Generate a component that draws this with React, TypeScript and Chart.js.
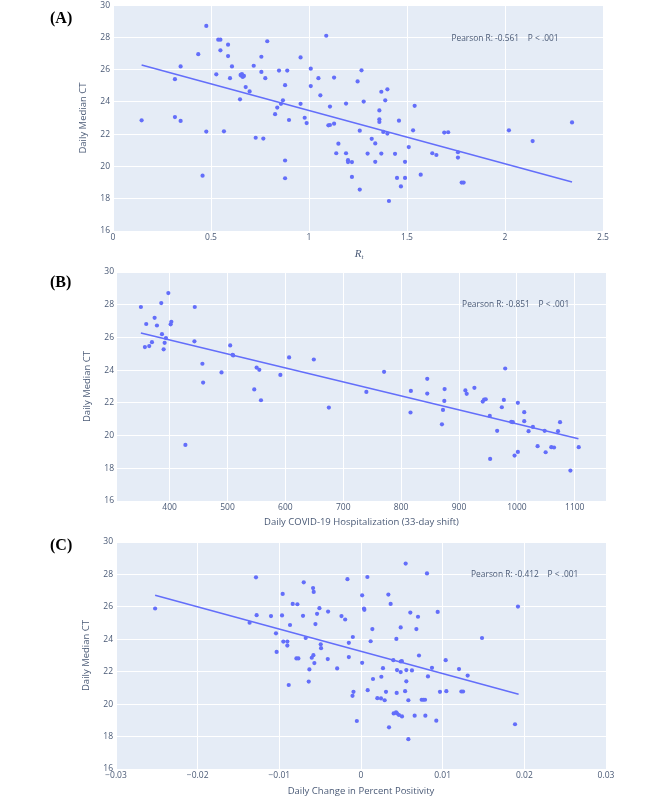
import React, { useEffect, useRef } from 'react';
import { Chart, registerables } from 'chart.js';
Chart.register(...registerables);

// ---------- Panel A: Rt vs Daily Median CT ----------
const aRt = [0.146, 0.476, 0.435, 0.345, 0.316, 0.316, 0.345, 0.476, 0.457, 0.537, 0.548, 0.548, 0.587, 0.587, 0.527, 0.607, 0.597, 0.566, 0.648, 0.651, 0.658, 0.662, 0.668, 0.655, 0.677, 0.697, 0.718, 0.757, 0.757, 0.777, 0.787, 0.728, 0.767, 0.847, 0.889, 0.878, 0.867, 0.857, 0.838, 0.827, 0.898, 0.878, 0.878, 0.957, 0.957, 0.978, 0.988, 1.009, 1.009, 1.048, 1.058, 1.088, 1.107, 1.099, 1.107, 1.128, 1.128, 1.150, 1.139, 1.189, 1.189, 1.199, 1.199, 1.219, 1.219, 1.248, 1.259, 1.259, 1.268, 1.279, 1.369, 1.4, 1.389, 1.359, 1.359, 1.359, 1.379, 1.4, 1.32, 1.338, 1.299, 1.369, 1.338, 1.439, 1.459, 1.509, 1.49, 1.539, 1.531, 1.449, 1.49, 1.469, 1.408, 1.57, 1.629, 1.65, 1.69, 1.71, 1.76, 1.76, 1.779, 1.789, 2.02, 2.141, 2.342];
const aCt = [22.86, 28.71, 26.96, 26.2, 25.41, 23.06, 22.82, 22.16, 19.43, 27.86, 27.86, 27.2, 27.55, 26.84, 25.71, 26.2, 25.47, 22.18, 24.16, 25.67, 25.73, 25.55, 25.61, 25.62, 24.92, 24.65, 26.24, 26.8, 25.86, 25.47, 27.76, 21.78, 21.73, 25.94, 25.94, 25.04, 24.1, 23.88, 23.65, 23.24, 22.88, 20.37, 19.27, 26.76, 23.88, 23.02, 22.69, 26.06, 24.98, 25.47, 24.41, 28.1, 23.71, 22.55, 22.57, 22.65, 25.51, 21.41, 20.82, 20.82, 23.9, 20.39, 20.27, 20.27, 19.35, 25.27, 22.22, 18.57, 25.96, 24.02, 24.63, 24.78, 24.1, 23.47, 22.92, 22.76, 22.14, 22.04, 21.71, 21.43, 20.8, 20.8, 20.29, 20.78, 22.84, 21.2, 20.29, 23.76, 22.24, 19.29, 19.29, 18.76, 17.86, 19.49, 20.82, 20.71, 22.1, 22.12, 20.88, 20.55, 19.0, 19.0, 22.24, 21.57, 22.73];
const aFitX = [0.146, 2.342];
const aFitY = [26.29, 19.04];

// ---------- Panel B: Hospitalization vs Daily Median CT ----------
const bHosp = [350.3, 359.5, 357.2, 364.7, 369.4, 374, 378, 385.5, 386.7, 389.6, 391.3, 393.6, 397.7, 401.7, 402.9, 443.4, 442.8, 456.6, 457.8, 427.2, 489.6, 504.6, 508.7, 509.8, 550.3, 554.9, 546.2, 557.8, 591.3, 606.4, 649.1, 675.1, 739.9, 770.5, 816.8, 816.2, 845.1, 845.1, 875.1, 874.6, 872.3, 870.5, 911, 913.3, 926.6, 941, 943.4, 946.2, 953.2, 953.8, 965.9, 974, 977.5, 979.8, 990.2, 993.1, 1001.7, 996, 1001.7, 1012.7, 1012.7, 1020.2, 1027.7, 1035.8, 1048, 1049.7, 1059.5, 1064.2, 1071.1, 1074.6, 1092.5, 1106.9];
const bCt = [27.86, 26.82, 25.41, 25.47, 25.71, 27.2, 26.73, 28.1, 26.2, 25.27, 25.67, 25.96, 28.71, 26.8, 26.96, 27.86, 25.76, 24.39, 23.24, 19.43, 23.86, 25.51, 24.94, 24.9, 24.16, 24.02, 22.82, 22.16, 23.71, 24.78, 24.65, 21.71, 22.67, 23.9, 22.73, 21.41, 23.47, 22.57, 22.84, 22.12, 21.57, 20.69, 22.76, 22.55, 22.92, 22.08, 22.2, 22.22, 21.2, 18.57, 20.29, 21.73, 22.18, 24.1, 20.84, 20.82, 22, 18.78, 19.0, 21.43, 20.88, 20.27, 20.53, 19.35, 20.29, 18.98, 19.29, 19.27, 20.27, 20.82, 17.86, 19.29];
const bFitX = [350.3, 1106.4];
const bFitY = [26.27, 19.8];

// ---------- Panel C: Daily change in percent positivity vs Daily Median CT ----------
const cPos = [-0.02521, -0.01286, -0.01278, -0.01364, -0.01102, -0.01041, -0.01033, -0.00959, -0.00967, -0.00951, -0.00902, -0.00902, -0.00869, -0.00885, -0.00836, -0.00779, -0.00791, -0.00767, -0.0071, -0.00701, -0.00677, -0.00632, -0.0064, -0.00603, -0.00583, -0.00571, -0.00587, -0.00579, -0.00558, -0.00538, -0.00509, -0.00493, -0.00489, -0.00407, -0.00403, -0.00292, -0.00239, -0.00194, -0.00166, -0.00149, -0.00149, -0.001, -0.00092, -0.00104, -0.00051, 0.00014, 0.00014,
  0.00547, 0.00808, 0.00078, 0.00335, 0.00363, 0.00037, 0.00041, 0.00604, 0.00698, 0.00939, 0.00139, 0.00486, 0.00678, 0.00118, 0.00433, 0.0071, 0.00396, 0.00486, 0.005, 0.00269, 0.00441, 0.00486, 0.00555, 0.00624, 0.00869, 0.01037, 0.012, 0.01306, 0.00249, 0.00147, 0.00555, 0.0082, 0.00082, 0.00306, 0.00437, 0.0054, 0.00967, 0.01045, 0.01229, 0.0125, 0.002, 0.00245, 0.0029, 0.0058, 0.00743, 0.00763, 0.00784, 0.004, 0.00429, 0.00441, 0.00465, 0.00502, 0.00657, 0.00788, 0.00922, 0.00343, 0.0058, 0.01482, 0.01922, 0.01886];
const cCt = [25.9, 27.82, 25.49, 25.02, 25.43, 24.37, 23.22, 26.8, 25.47, 23.86, 23.86, 23.61, 24.88, 21.18, 26.18, 26.16, 22.82, 22.82, 25.45, 27.51, 24.08, 22.14, 21.39, 22.86, 23.02, 22.53, 27.16, 26.92, 24.94, 25.57, 25.92, 23.69, 23.45, 22.78, 25.71, 22.2, 25.43, 25.22, 27.71, 23.78, 22.9, 24.14, 20.76, 20.51, 18.96, 26.71, 22.55,
  28.67, 28.06, 27.84, 26.76, 26.18, 25.9, 25.82, 25.65, 25.39, 25.69, 24.63, 24.73, 24.63, 23.88, 24.02, 23.0, 22.71, 22.63, 22.65, 22.22, 22.1, 21.98, 22.1, 22.08, 22.24, 22.71, 22.16, 21.76, 21.69, 21.55, 21.41, 21.71, 20.86, 20.76, 20.69, 20.8, 20.76, 20.8, 20.78, 20.78, 20.37, 20.35, 20.24, 20.24, 20.27, 20.27, 20.27, 19.43, 19.49, 19.43, 19.33, 19.24, 19.29, 19.29, 18.98, 18.57, 17.84, 24.08, 26.02, 18.76];
const cFitX = [-0.02521, 0.0193];
const cFitY = [26.71, 20.61];

const ctTicks = [16, 18, 20, 22, 24, 26, 28, 30];

const notes = ['Pearson R: -0.561    P < .001', 'Pearson R: -0.851    P < .001', 'Pearson R: -0.412    P < .001'];

const PLOT_BG = '#E5ECF6';
const MARK = '#636EFA';
const TXT = '#4a5a76';
const FONT = "'Open Sans', 'Noto Sans', sans-serif";

type PanelProps = {
  top: number; height: number;
  padL: number; padR: number; padT: number; padB: number; xH: number;
  xs: number[]; ys: number[]; fx: number[]; fy: number[];
  xMin: number; xMax: number; xStep: number;
  xTitle: string; rt?: boolean;
  note: string; noteX: number; noteY: number;
  fmt?: (v: number) => string;
};

function Panel(p: PanelProps) {
  const ref = useRef<HTMLCanvasElement | null>(null);
  useEffect(() => {
    if (!ref.current) return;
    const bg = {
      id: 'bg',
      beforeDraw(chart: any) {
        const { ctx, chartArea } = chart;
        ctx.save();
        ctx.fillStyle = PLOT_BG;
        ctx.fillRect(chartArea.left, chartArea.top, chartArea.right - chartArea.left, chartArea.bottom - chartArea.top);
        ctx.restore();
      },
    };
    const extra = {
      id: 'extra',
      afterDraw(chart: any) {
        const { ctx, chartArea, scales } = chart;
        ctx.save();
        ctx.fillStyle = TXT;
        ctx.textBaseline = 'middle';
        ctx.textAlign = 'center';
        ctx.font = `8.4px ${FONT}`;
        ctx.fillText(p.note, scales.x.getPixelForValue(p.noteX), scales.y.getPixelForValue(p.noteY));
        if (p.rt) {
          const cx = (chartArea.left + chartArea.right) / 2 + 1;
          const y = chartArea.bottom + 23;
          ctx.textAlign = 'left';
          ctx.font = "italic 11px 'Liberation Serif', serif";
          const w1 = ctx.measureText('R').width;
          ctx.font = "italic 7px 'Liberation Serif', serif";
          const w2 = ctx.measureText('t').width;
          const x0 = cx - (w1 + w2) / 2;
          ctx.font = "italic 11px 'Liberation Serif', serif";
          ctx.fillText('R', x0, y);
          ctx.font = "italic 7px 'Liberation Serif', serif";
          ctx.fillText('t', x0 + w1, y + 3);
        }
        ctx.restore();
      },
    };
    const chart = new Chart(ref.current, {
      type: 'scatter',
      data: {
        datasets: [
          {
            data: p.xs.map((x, i) => ({ x, y: p.ys[i] })),
            backgroundColor: MARK,
            borderColor: MARK,
            borderWidth: 0,
            pointRadius: 2.1,
            showLine: false,
          },
          {
            data: p.fx.map((x, i) => ({ x, y: p.fy[i] })),
            borderColor: MARK,
            backgroundColor: MARK,
            borderWidth: 1.5,
            pointRadius: 0,
            showLine: true,
          },
        ],
      },
      options: {
        responsive: false,
        animation: false,
        layout: { padding: { left: p.padL, right: p.padR, top: p.padT, bottom: p.padB } },
        plugins: { legend: { display: false }, tooltip: { enabled: false } },
        scales: {
          x: {
            type: 'linear',
            min: p.xMin,
            max: p.xMax,
            border: { display: false },
            grid: { color: '#ffffff', lineWidth: 1, drawTicks: false },
            ticks: {
              stepSize: p.xStep,
              includeBounds: false,
              padding: 1,
              color: TXT,
              font: { size: 8.5, family: FONT },
              maxRotation: 0,
              autoSkip: false,
              callback: (v: any) => (p.fmt ? p.fmt(Number(v)) : String(Number(Number(v).toFixed(6)))),
            },
            title: {
              display: !p.rt,
              text: p.xTitle,
              color: TXT,
              padding: 0,
              font: { size: 9.5, family: FONT },
            },
            afterFit: (s: any) => { s.height = p.xH; },
          },
          y: {
            type: 'linear',
            min: 16,
            max: 30,
            border: { display: false },
            grid: { color: '#ffffff', lineWidth: 1, drawTicks: false },
            afterBuildTicks: (s: any) => { s.ticks = ctTicks.map((v) => ({ value: v })); },
            ticks: {
              padding: 3,
              color: TXT,
              font: { size: 8.5, family: FONT },
            },
            title: {
              display: true,
              text: 'Daily Median CT',
              color: TXT,
              padding: 0,
              font: { size: 9.5, family: FONT },
            },
            afterFit: (s: any) => { s.width = 35; },
          },
        },
      },
      plugins: [bg, extra],
    } as any);
    return () => chart.destroy();
  }, []);
  return (
    <canvas
      ref={ref}
      width={666}
      height={p.height}
      style={{ position: 'absolute', left: 0, top: p.top, width: 666, height: p.height }}
    />
  );
}

const pctFmt = (v: number) => {
  const r = Math.round(v * 100) / 100;
  if (Math.abs(r) < 1e-9) return '0';
  return (r < 0 ? '\u2212' : '') + Math.abs(r).toFixed(2);
};

const labelStyle: React.CSSProperties = {
  position: 'absolute',
  left: 50,
  font: "bold 16px 'Liberation Serif', 'Times New Roman', serif",
  lineHeight: '16px',
  color: '#000',
};

export default function App() {
  return (
    <div style={{ position: 'absolute', left: 0, top: 0, width: 666, height: 799, background: '#fff', overflow: 'hidden' }}>
      <Panel top={-3} height={268} padL={78} padR={63} padT={8} padB={5} xH={29}
        xs={aRt} ys={aCt} fx={aFitX} fy={aFitY} xMin={0} xMax={2.5} xStep={0.5}
        xTitle="Rt" rt note={notes[0]} noteX={2.0} noteY={27.92} />
      <Panel top={262} height={268} padL={82} padR={60} padT={10} padB={2} xH={27}
        xs={bHosp} ys={bCt} fx={bFitX} fy={bFitY} xMin={309} xMax={1154} xStep={100}
        xTitle="Daily COVID-19 Hospitalization (33-day shift)" note={notes[1]} noteX={998} noteY={27.98} />
      <Panel top={532} height={267} padL={81} padR={60} padT={10} padB={2} xH={28}
        xs={cPos} ys={cCt} fx={cFitX} fy={cFitY} xMin={-0.03} xMax={0.03} xStep={0.01}
        xTitle="Daily Change in Percent Positivity" note={notes[2]} noteX={0.02004} noteY={28.0} fmt={pctFmt} />
      <div style={{ ...labelStyle, top: 10 }}>(A)</div>
      <div style={{ ...labelStyle, top: 274 }}>(B)</div>
      <div style={{ ...labelStyle, top: 537 }}>(C)</div>
    </div>
  );
}
